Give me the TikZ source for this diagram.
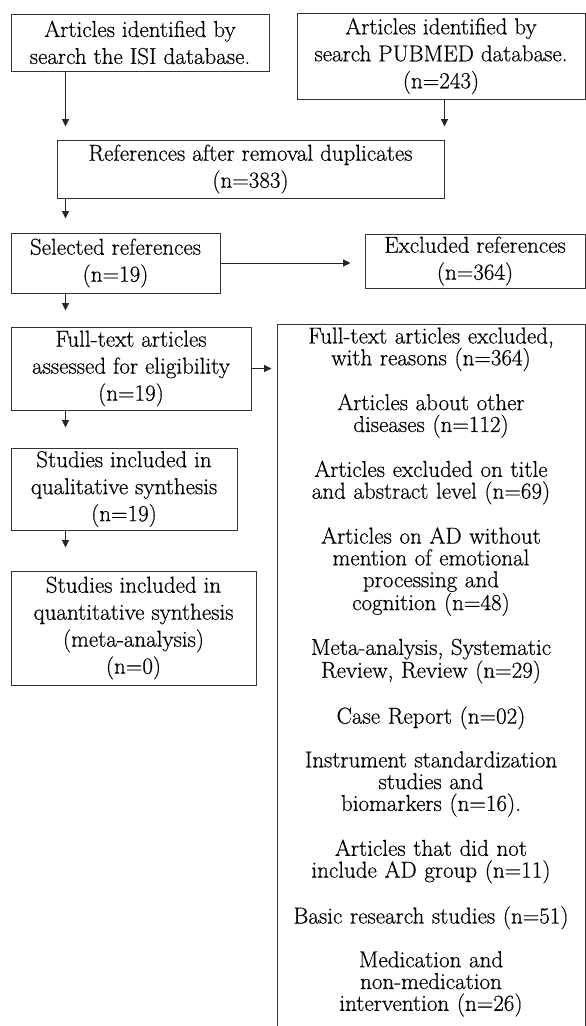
\documentclass[tikz,border=0pt]{standalone}
\usepackage{fontspec}
\setmainfont{Latin Modern Roman}[FakeBold=0.5]
\usetikzlibrary{arrows.meta, positioning, calc}

\begin{document}
\begin{tikzpicture}[x=1pt, y=-1pt, >={Triangle[length=7.5pt, width=7pt]},
  box/.style={draw=black!80, line width=1pt, align=center, inner sep=0pt,
    font=\fontsize{23}{27}\selectfont},
  arr/.style={->, black!85, line width=1pt}]
  \useasboundingbox (0,0) rectangle (586,1026);
  \clip (0,0) rectangle (586,1026);
  \coordinate (spine) at (65.5,0);

  % identification
  \node[box, minimum width=258pt, minimum height=57pt] (isi) at (140,42.5)
    {Articles identified by\\search the ISI database.};
  \node[box, minimum width=288pt, minimum height=86pt] (pubmed) at (441,56)
    {Articles identified by\\search PUBMED database.\\(n=243)};
  \node[box, minimum width=387pt, minimum height=58pt] (refs) at (250.5,169)
    {References after removal duplicates\\(n=383)};

  % screening
  \node[box, minimum width=209pt, minimum height=60pt] (selected) at (115.5,263)
    {Selected references\\(n=19)};
  \node[box, minimum width=220pt, minimum height=54pt] (excluded) at (475,261)
    {Excluded references\\(n=364)};

  % eligibility
  \node[box, minimum width=240pt, minimum height=83pt] (fulltext) at (131,368.5)
    {Full-text articles\\assessed for eligibility\\(n=19)};
  \node[box, anchor=north, text width=300pt, inner xsep=4pt, inner ysep=3pt,
    font=\fontsize{23}{21.8}\selectfont] (reasons) at (431,324)
    {Full-text articles excluded,\\with reasons (n=364)\\[21.9pt]
     Articles about other\\diseases (n=112)\\[21.9pt]
     Articles excluded on title\\and abstract level (n=69)\\[21.9pt]
     Articles on AD without\\mention of emotional\\processing and\\cognition (n=48)\\[21.9pt]
     Meta-analysis, Systematic\\Review, Review (n=29)\\[21.9pt]
     Case Report (n=02)\\[21.9pt]
     Instrument standardization\\studies and\\biomarkers (n=16).\\[21.9pt]
     Articles that did not\\include AD group (n=11)\\[21.9pt]
     Basic research studies (n=51)\\[21.9pt]
     Medication and\\non-medication\\intervention (n=26)\rule[-16pt]{0pt}{16pt}};

  % included
  \node[box, minimum width=226pt, minimum height=82pt] (qual) at (124,489)
    {Studies included in\\qualitative synthesis\\(n=19)};
  \node[box, minimum width=245pt, minimum height=114pt] (quant) at (133.5,628)
    {Studies included in\\quantitative synthesis\\(meta-analysis)\\(n=0)};

  % arrows
  \draw[arr] (isi.south -| spine) -- ([yshift=13pt]refs.north -| spine);
  \draw[arr] (pubmed.south -| refs.east) -- ([yshift=13pt]refs.north east);
  \draw[arr] (refs.south -| spine) -- ([yshift=14pt]selected.north -| spine);
  \draw[arr] (selected.east) -- ([xshift=-14pt]excluded.west |- selected.east);
  \draw[arr] (selected.south -| spine) -- ([yshift=16pt]fulltext.north -| spine);
  \draw[arr] (fulltext.east) -- ([xshift=-5pt]reasons.west |- fulltext.east);
  \draw[arr] (fulltext.south -| spine) -- ([yshift=20pt]qual.north -| spine);
  \draw[arr] (qual.south -| spine) -- ([yshift=23pt]quant.north -| spine);
\end{tikzpicture}
\end{document}
